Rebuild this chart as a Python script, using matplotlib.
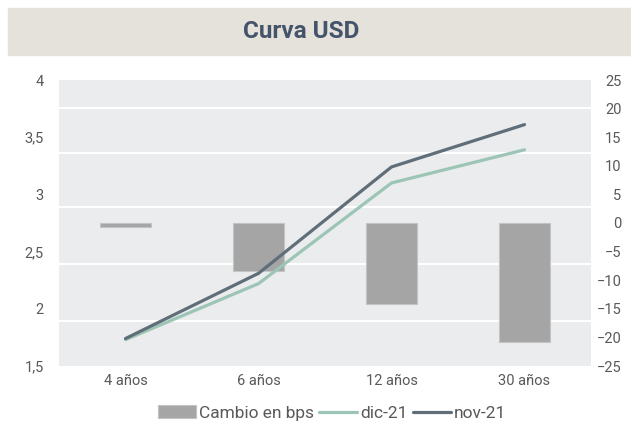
import numpy as np
import matplotlib.pyplot as plt
from matplotlib.patches import Rectangle
from matplotlib.transforms import blended_transform_factory

plt.rcParams['font.family'] = ['Roboto', 'DejaVu Sans']

# data
plazos = ['4 años', '6 años', '12 años', '30 años']
cambio_bps = [-0.7, -8.4, -14.2, -20.8]
dic_21 = [1.73, 2.22, 3.10, 3.39]
nov_21 = [1.74, 2.31, 3.24, 3.61]

left_ticks = [1.5, 2, 2.5, 3, 3.5, 4]
left_labels = ['1,5', '2', '2,5', '3', '3,5', '4']
right_ticks = list(range(-25, 30, 5))
grid_vals = [1.89, 2.39, 2.89, 3.36, 3.755]

txt_col = '#595959'
fig = plt.figure(figsize=(6.31, 4.29), dpi=100)

# title band
fig.patches.append(Rectangle((8 / 631, 1 - 55 / 429), 1 - 8 / 631, 47 / 429,
                             transform=fig.transFigure, color='#E5E2DB', zorder=0))
fig.text(301 / 631, 1 - 32 / 429, 'Curva USD', ha='center', va='center',
         fontsize=17.5, fontweight='bold', color='#44546A')

ax = fig.add_axes([59 / 631, 1 - 366 / 429, 532 / 631, 286 / 429])
ax2 = ax.twinx()

x = np.arange(len(plazos))
ax.set_xlim(-0.5, 3.5)
ax.set_ylim(1.5, 4)
ax2.set_ylim(-25, 25)

# bars live on ax2 (behind), lines on ax (front)
ax.set_zorder(ax2.get_zorder() + 1)
ax.patch.set_visible(False)
ax2.patch.set_visible(True)
ax2.patch.set_facecolor('#EBECEE')

trans = blended_transform_factory(ax2.transAxes, ax.transData)
for g in grid_vals:
    ax2.plot([0, 1], [g, g], color='white', lw=1.5, transform=trans, zorder=1)

bars = ax2.bar(x, cambio_bps, width=0.39, color='#A5A5A5', edgecolor='#C4C4C4',
               linewidth=0.8, zorder=2)
l1, = ax.plot(x, dic_21, color='#9CC5B5', lw=2.3, solid_capstyle='round')
l2, = ax.plot(x, nov_21, color='#5F6E78', lw=2.3, solid_capstyle='round')

ax.set_yticks(left_ticks)
ax.set_yticklabels(left_labels)
ax2.set_yticks(right_ticks)
ax.set_xticks(x)
ax.set_xticklabels(plazos)

for a in (ax, ax2):
    for s in a.spines.values():
        s.set_visible(False)
    a.tick_params(length=0, labelsize=10.5, labelcolor=txt_col)
ax.tick_params(axis='y', pad=11)
ax2.tick_params(axis='y', pad=22)
for t in ax2.get_yticklabels():
    t.set_horizontalalignment('right')
ax.tick_params(axis='x', pad=6)

fig.legend([bars, l1, l2], ['Cambio en bps', 'dic-21', 'nov-21'], loc='center',
           bbox_to_anchor=(332 / 631, 1 - 413 / 429), ncol=3, frameon=False,
           fontsize=12.5, labelcolor=txt_col, handlelength=2.2,
           handletextpad=0.15, columnspacing=0.3)

fig.savefig('out.png', dpi=100)
